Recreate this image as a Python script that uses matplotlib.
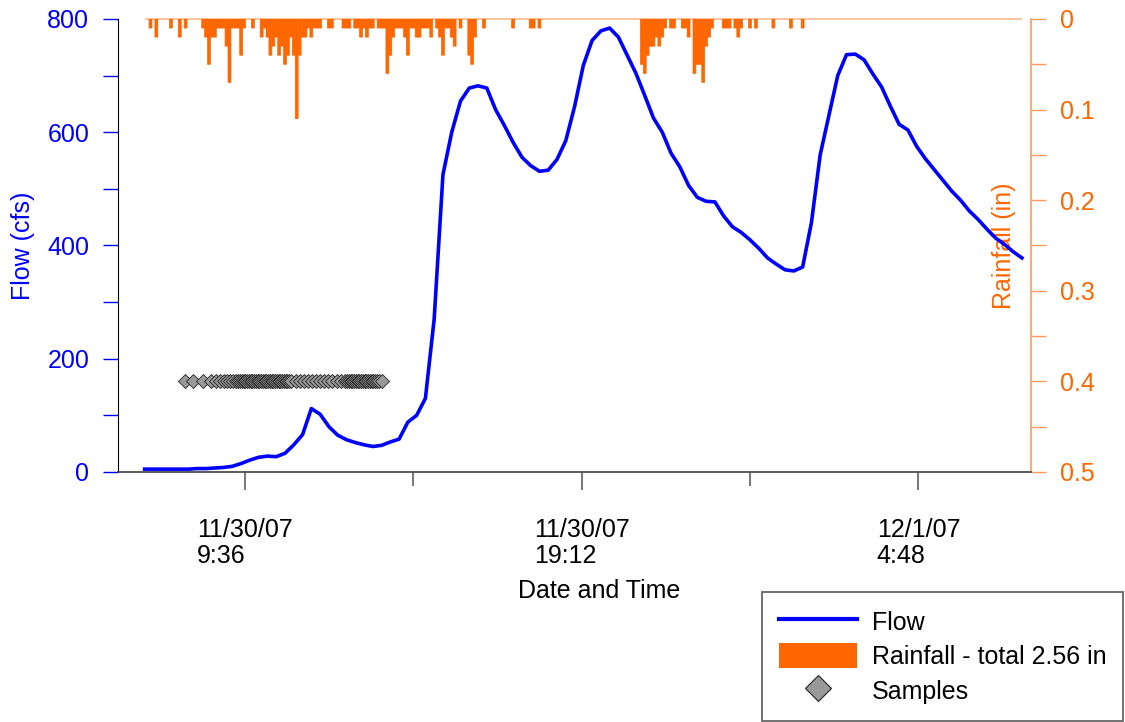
import matplotlib
matplotlib.use("Agg")
import matplotlib.pyplot as plt
import matplotlib.dates as mdates
from matplotlib.lines import Line2D
from matplotlib.patches import Patch
from matplotlib.ticker import FixedLocator, FuncFormatter
import pandas as pd

plt.rcParams['font.family'] = ['Liberation Sans', 'DejaVu Sans']

BLUE = '#0000ff'
ORANGE = '#ff6600'

# ---------------- data ----------------
flow_start = "2007-11-30 06:45"
flow_step = "15min"
flow_cfs = [5, 5, 5, 5, 5, 5, 6, 6, 7, 8,
            10, 15, 21, 26, 28, 27, 33, 48, 66, 112,
            102, 80, 65, 57, 52, 48, 45, 47, 53, 58,
            88, 100, 130, 270, 525, 600, 655, 678, 682, 678,
            640, 612, 582, 556, 541, 531, 533, 552, 585, 645,
            718, 762, 779, 784, 768, 736, 704, 665, 625, 600,
            563, 539, 506, 485, 478, 477, 452, 433, 423, 410,
            395, 378, 367, 357, 355, 362, 440, 560, 630, 700,
            737, 738, 728, 703, 680, 646, 614, 604, 575, 553,
            534, 515, 496, 480, 461, 446, 429, 413, 402, 389, 378]

# 5-minute rainfall totals (only non-zero intervals), times HH:MM (before 06:00 = next day)
rain_time = ["06:55", "07:05", "07:30", "07:45", "07:55",
             "08:25", "08:30", "08:35", "08:40", "08:45", "08:50", "08:55", "09:00",
             "09:05", "09:10", "09:15", "09:20", "09:25", "09:30", "09:35", "09:50",
             "10:05", "10:10", "10:15", "10:20", "10:25", "10:30", "10:35", "10:40",
             "10:45", "10:50", "10:55", "11:00", "11:05", "11:10", "11:15", "11:20",
             "11:25", "11:30", "11:35", "11:40", "11:45",
             "12:00", "12:05", "12:25", "12:30", "12:35", "12:45", "12:50", "12:55",
             "13:00", "13:05", "13:10", "13:15", "13:25", "13:30", "13:35", "13:40",
             "13:45", "13:50", "13:55", "14:00", "14:05", "14:10", "14:15", "14:20",
             "14:25", "14:30", "14:35", "14:40", "14:45", "14:50", "14:55", "15:05",
             "15:10", "15:15", "15:20", "15:25", "15:30", "15:35", "15:45", "16:00",
             "16:05", "16:10", "16:25", "17:15", "17:45", "17:50", "18:00",
             "20:55", "21:00", "21:05", "21:10", "21:15", "21:20", "21:25", "21:30",
             "21:35", "21:45", "21:50", "22:05", "22:10", "22:15", "22:25", "22:30",
             "22:35", "22:40", "22:45", "22:50", "22:55", "23:15", "23:20", "23:25",
             "23:35", "23:40", "23:45", "00:00", "00:10", "00:40", "01:10", "01:30"]
rain_in = [0.01, 0.02, 0.01, 0.02, 0.01,
           0.01, 0.02, 0.05, 0.02, 0.02, 0.01, 0.01, 0.01,
           0.03, 0.07, 0.01, 0.01, 0.01, 0.04, 0.01, 0.01,
           0.02, 0.01, 0.02, 0.04, 0.03, 0.02, 0.04, 0.03,
           0.05, 0.04, 0.02, 0.04, 0.11, 0.04, 0.02, 0.02,
           0.01, 0.02, 0.01, 0.01, 0.01,
           0.01, 0.01, 0.01, 0.01, 0.01, 0.01, 0.01, 0.02,
           0.01, 0.02, 0.01, 0.01, 0.01, 0.01, 0.01, 0.06,
           0.04, 0.02, 0.01, 0.01, 0.01, 0.02, 0.04, 0.01,
           0.01, 0.02, 0.02, 0.01, 0.01, 0.01, 0.02, 0.01,
           0.02, 0.04, 0.01, 0.01, 0.02, 0.03, 0.01, 0.04,
           0.05, 0.02, 0.01, 0.01, 0.01, 0.01, 0.01,
           0.05, 0.06, 0.04, 0.03, 0.03, 0.02, 0.03, 0.02,
           0.01, 0.01, 0.01, 0.01, 0.01, 0.02, 0.06, 0.05,
           0.05, 0.07, 0.03, 0.02, 0.01, 0.01, 0.01, 0.01,
           0.01, 0.02, 0.01, 0.01, 0.01, 0.01, 0.01, 0.01]
rain_interval_min = 5

sample_time = ["07:54", "08:08", "08:25", "08:39", "08:47", "08:54", "09:01", "09:06",
               "09:11", "09:16", "09:21", "09:25", "09:28", "09:31", "09:34", "09:37",
               "09:40", "09:43", "09:46", "09:49", "09:52", "09:55", "09:58", "10:01",
               "10:04", "10:07", "10:10", "10:13", "10:16", "10:19", "10:22", "10:25",
               "10:28", "10:31", "10:34", "10:37", "10:40", "10:43", "10:46", "10:49",
               "10:52", "10:55", "11:03", "11:10", "11:17", "11:24", "11:31", "11:38",
               "11:45", "11:52", "11:59", "12:06", "12:13", "12:20", "12:27", "12:31",
               "12:34", "12:37", "12:40", "12:43", "12:46", "12:49", "12:52", "12:55",
               "12:58", "13:01", "13:04", "13:07", "13:10", "13:13", "13:16", "13:19",
               "13:22", "13:25", "13:31"]
sample_level_cfs = 160

x_range = ["2007-11-30 06:00", "2007-12-01 08:00"]
major_ticks = ["2007-11-30 09:36", "2007-11-30 19:12", "2007-12-01 04:48"]
minor_ticks = ["2007-11-30 14:24", "2007-12-01 00:00"]
flow_ticks = [0, 200, 400, 600, 800]
flow_minor = [100, 300, 500, 700]
rain_ticks = [0, 0.1, 0.2, 0.3, 0.4, 0.5]
rain_minor = [0.05, 0.15, 0.25, 0.35, 0.45]


def hm_to_ts(hm):
    day = "2007-11-30" if int(hm[:2]) >= 6 else "2007-12-01"
    return pd.Timestamp(f"{day} {hm}")


flow_t = mdates.date2num(pd.date_range(flow_start, periods=len(flow_cfs), freq=flow_step).to_pydatetime())
rain_t = mdates.date2num([hm_to_ts(h).to_pydatetime() for h in rain_time])
samp_t = mdates.date2num([hm_to_ts(h).to_pydatetime() for h in sample_time])
xr = mdates.date2num([pd.Timestamp(s).to_pydatetime() for s in x_range])
maj = [pd.Timestamp(s) for s in major_ticks]
mino = mdates.date2num([pd.Timestamp(s).to_pydatetime() for s in minor_ticks])

# ---------------- figure ----------------
fig = plt.figure(figsize=(11.25, 7.22), dpi=100)
ax = fig.add_axes([0.1052, 0.3463, 0.8110, 0.6274])
ax2 = ax.twinx()
ax.set_zorder(ax2.get_zorder() + 1)
ax.patch.set_visible(False)

# rainfall (right axis, inverted)
bars = ax2.bar(rain_t, rain_in, width=rain_interval_min / 1440.0, color=ORANGE,
               edgecolor=ORANGE, linewidth=0.5, align='center')
for b in bars:
    b.set_snap(False)
ax2.plot([flow_t[0], flow_t[-1]], [0, 0], color=ORANGE, lw=1.2, alpha=0.45,
         solid_capstyle='butt', clip_on=False)
ax2.set_ylim(0.5, 0)
ax2.yaxis.set_major_locator(FixedLocator(rain_ticks))
ax2.yaxis.set_minor_locator(FixedLocator(rain_minor))
ax2.yaxis.set_major_formatter(FuncFormatter(lambda v, p: f"{v:g}"))
ax2.tick_params(axis='y', which='both', direction='out', length=11, width=1,
                color='#ff9a5c', labelcolor=ORANGE, labelsize=18, pad=10)
for s in ['top', 'left', 'bottom']:
    ax2.spines[s].set_visible(False)
ax2.spines['right'].set_color('#ff9a5c')
ax2.spines['right'].set_linewidth(1.2)
ax2.set_ylabel("Rainfall (in)", color=ORANGE, fontsize=18)
ax2.yaxis.set_label_coords(0.971, 0.50)
ax2.yaxis.label.set_verticalalignment('center')
ax2.yaxis.label.set_horizontalalignment('center')

# flow (left axis)
ax.plot(flow_t, flow_cfs, color=BLUE, lw=2.6, solid_joinstyle='round')
ax.plot(samp_t, [sample_level_cfs] * len(samp_t), linestyle='none', marker='D',
        markersize=7, markerfacecolor='#999999', markeredgecolor='#222222',
        markeredgewidth=0.6)
ax.set_xlim(xr[0], xr[1])
ax.set_ylim(0, 800)
ax.yaxis.set_major_locator(FixedLocator(flow_ticks))
ax.yaxis.set_minor_locator(FixedLocator(flow_minor))
ax.tick_params(axis='y', which='both', direction='out', length=11, width=1,
               color=BLUE, labelcolor=BLUE, labelsize=18, pad=10)
ax.set_xticks(mdates.date2num([d.to_pydatetime() for d in maj]))
ax.set_xticklabels([f"{d.month}/{d.day}/{d:%y}\n{d.hour}:{d:%M}" for d in maj],
                   fontsize=18, ha='center', multialignment='left', linespacing=1.1)
ax.set_xticks(mino, minor=True)
ax.tick_params(axis='x', which='major', direction='out', length=13, width=1.2,
               color='#606060', pad=20)
ax.tick_params(axis='x', which='minor', direction='out', length=10, width=1.2,
               color='#606060')
for s in ['top', 'right']:
    ax.spines[s].set_visible(False)
ax.spines['left'].set_color('black')
ax.spines['bottom'].set_color('#404040')
ax.spines['bottom'].set_linewidth(1.2)

ax.set_ylabel("Flow (cfs)", color=BLUE, fontsize=18)
ax.yaxis.set_label_coords(-0.1050, 0.50)
ax.yaxis.label.set_verticalalignment('center')
ax.set_xlabel("Date and Time", fontsize=18)
ax.xaxis.set_label_coords(0.527, -0.263)
ax.xaxis.label.set_verticalalignment('center')

# legend
handles = [Line2D([], [], color=BLUE, lw=3),
           Patch(facecolor=ORANGE, edgecolor='none'),
           Line2D([], [], linestyle='none', marker='D', markersize=13,
                  markerfacecolor='#999999', markeredgecolor='#222222', markeredgewidth=0.8)]
labels = ["Flow", "Rainfall - total 2.56 in", "Samples"]
leg = fig.legend(handles, labels, loc='upper left',
                 bbox_to_anchor=(762 / 1125, 1 - 592 / 722), bbox_transform=fig.transFigure,
                 fontsize=18, frameon=True, fancybox=False, edgecolor='#404040',
                 borderpad=0.68, handlelength=3.1, handleheight=1.15, handletextpad=0.6,
                 labelspacing=0.34, borderaxespad=0)
leg.get_frame().set_linewidth(1.3)

fig.savefig("out.png", dpi=100, facecolor='white')
